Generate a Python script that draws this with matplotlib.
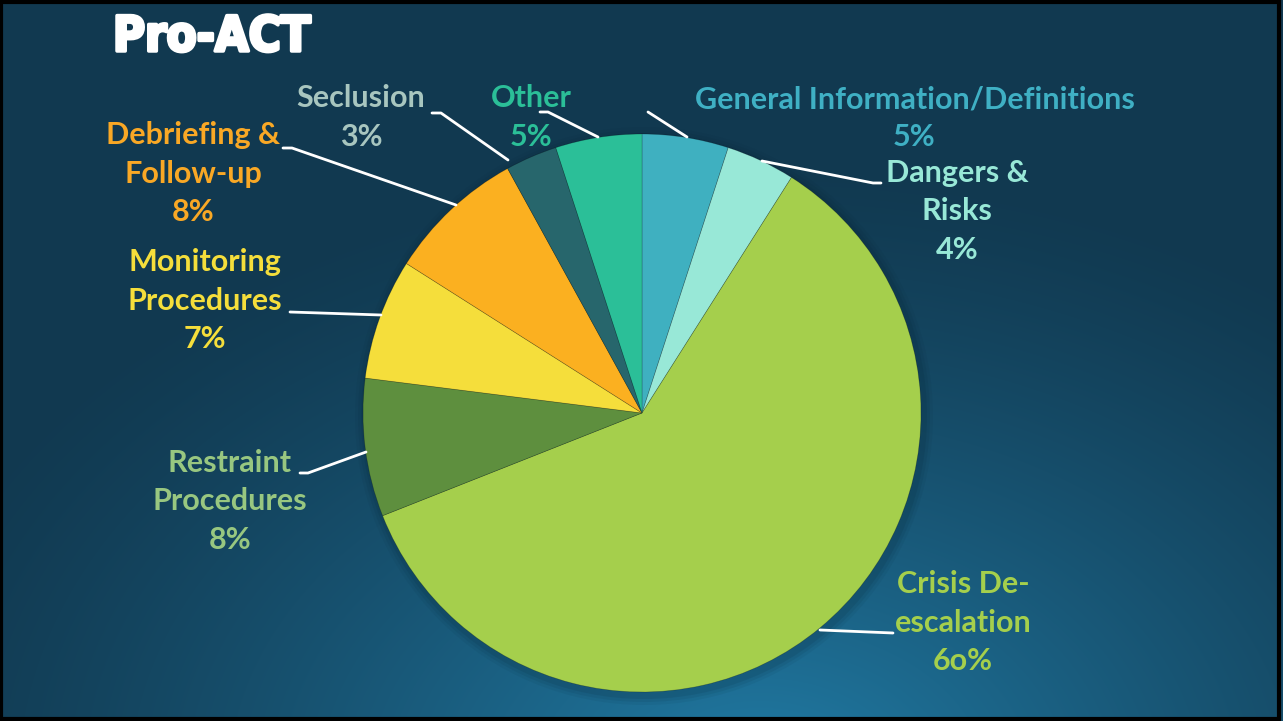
import numpy as np
import matplotlib.pyplot as plt
import matplotlib.patheffects as pe
from matplotlib.patches import Rectangle, Circle

# data (clockwise from 12 o'clock)
labels = ['General Information/Definitions', 'Dangers &\nRisks', 'Crisis De-\nescalation',
          'Restraint\nProcedures', 'Monitoring\nProcedures', 'Debriefing &\nFollow-up',
          'Seclusion', 'Other']
shares = [5, 4, 60, 8, 7, 8, 3, 5]
pct_text = ['5%', '4%', '6o%', '8%', '7%', '8%', '3%', '5%']
slice_colors = ['#3fb0c0', '#98e8d7', '#a5cf4c', '#5e8f3e', '#f5de3b', '#fbb020', '#27666c', '#2bbf98']
label_colors = ['#3fb0c4', '#98e8d7', '#a5cf4c', '#98c780', '#f5de3b', '#f9a825', '#a8c6bf', '#2bbf98']

W, H = 1283, 721
fig = plt.figure(figsize=(W / 100, H / 100), dpi=100)

# background gradient
bg = fig.add_axes([0, 0, 1, 1])
yy, xx = np.mgrid[0:H, 0:W]
d = np.sqrt(((xx - 760) / 900.0) ** 2 + ((yy - 780) / 620.0) ** 2)
t = np.clip(1 - d, 0, 1) ** 1.3
dark = np.array([0x11, 0x39, 0x50]) / 255
light = np.array([0x21, 0x7c, 0xa6]) / 255
img = dark[None, None, :] * (1 - t[..., None]) + light[None, None, :] * t[..., None]
bg.imshow(img, extent=[0, W, 0, H], origin='upper', aspect='auto')
bg.axis('off')

ax = fig.add_axes([0, 0, 1, 1])
ax.set_xlim(0, W)
ax.set_ylim(0, H)
ax.axis('off')

cx, cy, r = 642, H - 413, 279

# soft shadow under the pie
for k, a in zip([10, 7, 4], [0.06, 0.08, 0.10]):
    ax.add_patch(Circle((cx + 2, cy - 3), r + k, color='#05202e', alpha=a, lw=0))

wedges, _ = ax.pie(shares, colors=slice_colors, startangle=90, counterclock=False,
                   center=(cx, cy), radius=r, frame=True,
                   wedgeprops=dict(edgecolor=(0, 0, 0, 0.25), linewidth=0.5))
ax.set_xlim(0, W)
ax.set_ylim(0, H)
ax.set_aspect('equal')
ax.axis('off')

# label positions (pixel coords, top-left origin), leader line points
label_pos = [(915, 99), (957, 173), (963, 584), (230, 463), (205, 262), (193, 135), (361, 98), (531, 98)]
leaders = [
    [(648, 112), (687, 137)],
    [(881, 183), (873, 183), (762, 161)],
    [(893, 633), (820, 630)],
    [(300, 473), (308, 473), (366, 452)],
    [(290, 312), (381, 315)],
    [(283, 148), (292, 148), (456, 205)],
    [(432, 113), (441, 113), (508, 160)],
    [(540, 112), (548, 112), (598, 137)],
]

plt.rcParams['font.family'] = ['Lato', 'DejaVu Sans']
line_h = 38.5
for lab, pct, col, (px, py), pts in zip(labels, pct_text, label_colors, label_pos, leaders):
    lines = lab.split('\n') + [pct]
    for i, s in enumerate(lines):
        x = px
        if i == len(lines) - 1 and lab.startswith('General'):
            x = 914
        ax.text(x, H - (py + i * line_h), s, color=col, fontsize=22, fontweight='bold',
                ha='center', va='center')
    xs = [p[0] for p in pts]
    ys = [H - p[1] for p in pts]
    ax.plot(xs, ys, color='white', lw=2, solid_capstyle='round')

# title
fig.text(113 / W, 1 - 37 / H, 'Pro-ACT', color='white', fontsize=35, fontweight='heavy',
         family='DejaVu Sans', fontstretch='condensed', ha='left', va='center',
         path_effects=[pe.withStroke(linewidth=2.5, foreground='white')])

# frame
fig.patches.append(Rectangle((0.001, 0.003), 0.996, 0.994, transform=fig.transFigure,
                             fill=False, edgecolor='black', linewidth=3))

fig.savefig('out.png', dpi=100)
